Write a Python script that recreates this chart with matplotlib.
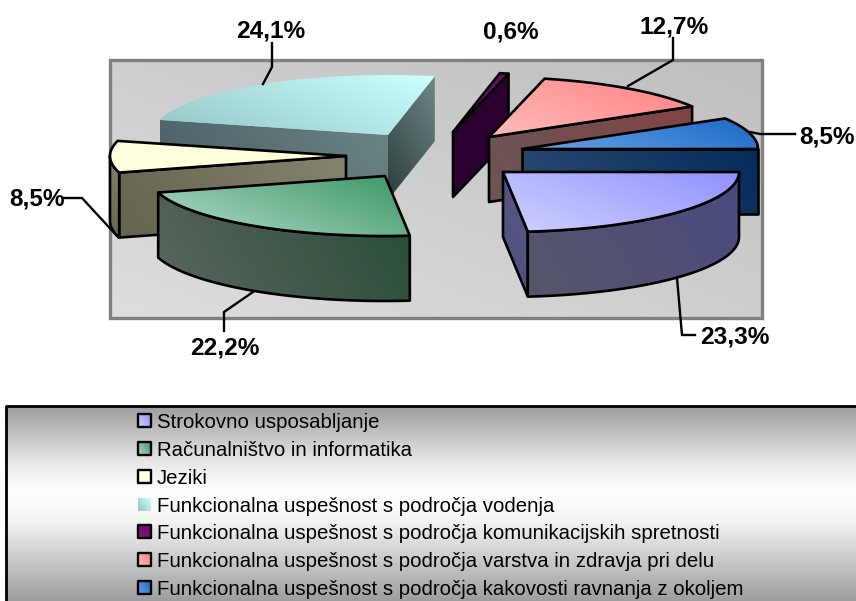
import numpy as np
import matplotlib
matplotlib.use('Agg')
import matplotlib.pyplot as plt
from matplotlib.colors import to_rgb
from matplotlib.patches import Polygon, Rectangle

categories = [
    'Strokovno usposabljanje',
    'Računalništvo in informatika',
    'Jeziki',
    'Funkcionalna uspešnost s področja vodenja',
    'Funkcionalna uspešnost s področja komunikacijskih spretnosti',
    'Funkcionalna uspešnost s področja varstva in zdravja pri delu',
    'Funkcionalna uspešnost s področja kakovosti ravnanja z okoljem',
]
values = [23.3, 22.2, 8.5, 24.1, 0.6, 12.7, 8.5]
labels = ['23,3%', '22,2%', '8,5%', '24,1%', '0,6%', '12,7%', '8,5%']

# apex of every exploded slice, in pixels
apex = [(503, 172), (385, 176), (346, 156), (388, 135), (453, 132), (489, 137), (522, 149)]
label_pos = [(735, 337), (225, 348), (37, 199), (271, 31), (511, 32), (674, 27), (827, 137)]
leaders = [
    [(677, 278), (682, 335), (695, 335)],
    [(253, 292), (224, 312), (224, 331)],
    [(64, 198), (82, 198), (118, 237)],
    [(272, 43), (272, 67), (263, 84)],
    None,
    [(673, 38), (673, 60), (628, 86)],
    [(750, 132), (760, 134), (795, 134)],
]
# colours run from lower left to upper right of a face
top_cols = [('#d0d1ff', '#9191ff'), ('#b4dccb', '#3b9765'), ('#ffffe4', '#ffffd2'),
            ('#94c6c6', '#ccffff'), ('#8a108a', '#6a0a6a'), ('#ffbcbc', '#ff8080'),
            ('#6aa5e4', '#1a68c8')]
side_cols = [('#56566a', '#4a4a80'), ('#5c665c', '#264c38'), ('#66634f', '#86846c'),
             ('#4c6066', '#6a8484'), ('#2b0030', '#2b0030'), ('#6a5656', '#824444'),
             ('#2a4a70', '#062c5c')]
radial_cols = [('#4e4e80', '#585888'), None, None, ('#2c3c3c', '#6f8888'),
               ('#2b0030', '#2b0030'), None, None]
outlined = [True, True, True, False, True, True, True]
draw_order = [3, 2, 1, 4, 5, 6, 0]

RX, RY, DEPTH = 236, 60, 65

fig = plt.figure(figsize=(8.56, 6.01), dpi=100)
ax = fig.add_axes([0, 0, 1, 1])
ax.set_xlim(0, 856)
ax.set_ylim(601, 0)
ax.axis('off')

z = [1]


def grad_poly(pts, c1, c2, edge=True, direction=(1, -0.6), lw=1.9):
    pts = np.array(pts, dtype=float)
    x0, y0 = pts.min(axis=0)
    x1, y1 = pts.max(axis=0)
    xx, yy = np.meshgrid(np.linspace(x0, x1, 80), np.linspace(y0, y1, 80))
    t = xx * direction[0] + yy * direction[1]
    t = (t - t.min()) / max(t.max() - t.min(), 1e-6)
    img = np.array(to_rgb(c1)) * (1 - t[..., None]) + np.array(to_rgb(c2)) * t[..., None]
    im = ax.imshow(img, extent=(x0, x1, y1, y0), aspect='auto', interpolation='bilinear',
                   zorder=z[0])
    im.set_clip_path(Polygon(pts, closed=True, transform=ax.transData))
    if edge:
        ax.add_patch(Polygon(pts, closed=True, fill=False, ec='black', lw=lw, zorder=z[0] + 0.5,
                             joinstyle='round'))
    z[0] += 1


def pt(c, deg):
    a = np.deg2rad(deg)
    return c[0] + RX * np.cos(a), c[1] + RY * np.sin(a)


# plot area
grad_poly([(110, 60), (762, 60), (762, 318), (110, 318)], '#dedede', '#bfbfbf', edge=False,
          direction=(0.4, -1))
ax.add_patch(Rectangle((110, 60), 652, 258, fill=False, ec='#808080', lw=2.4, zorder=z[0]))
z[0] += 1

cum = np.concatenate([[0], np.cumsum(values)]) / np.sum(values) * 360

for i in draw_order:
    c = apex[i]
    a, b = cum[i], cum[i + 1]
    edge = outlined[i]
    # radial walls that face the viewer
    for deg, visible in ((a, np.sin(np.deg2rad(a - 90)) > 0), (b, np.cos(np.deg2rad(b)) > 0)):
        if visible:
            p = pt(c, deg)
            wall = [c, p, (p[0], p[1] + DEPTH), (c[0], c[1] + DEPTH)]
            # front walls use the side colours, the steep ones their own
            cols = radial_cols[i] if radial_cols[i] and abs(np.cos(np.deg2rad(deg))) < 0.6 else side_cols[i]
            grad_poly(wall, cols[0], cols[1], edge=edge)
    # outer rim
    lo, hi = max(a, 0), min(b, 180)
    if hi > lo:
        arc = [pt(c, d) for d in np.linspace(lo, hi, 60)]
        rim = arc + [(x, y + DEPTH) for x, y in arc[::-1]]
        grad_poly(rim, side_cols[i][0], side_cols[i][1], edge=edge)
    # top
    arc = [pt(c, d) for d in np.linspace(a, b, 60)]
    grad_poly([c] + arc, top_cols[i][0], top_cols[i][1], edge=edge, direction=(0.4, -1))

for i, line in enumerate(leaders):
    if line:
        ax.plot(*zip(*line), color='black', lw=1.7, zorder=z[0], solid_joinstyle='miter')
    ax.text(label_pos[i][0], label_pos[i][1], labels[i], ha='center', va='center',
            family='Liberation Sans', weight='bold', fontsize=17.6, color='black', zorder=z[0] + 1)
z[0] += 2

# legend box, runs off the canvas on the right and at the bottom
yy = np.linspace(406, 601, 200)
shade = np.interp(yy, [406, 460, 490, 520, 601], [0.62, 0.9, 1.0, 0.96, 0.62])
ax.imshow(np.stack([shade] * 3, axis=-1)[:, None, :].repeat(2, axis=1), extent=(6, 860, 601, 406),
          aspect='auto', zorder=z[0], interpolation='bilinear')
z[0] += 1
ax.plot([860, 6, 6], [406, 406, 603], color='black', lw=2, zorder=z[0], clip_on=True)

legend_y = [421, 449, 477, 505, 532, 560, 588]
for i, name in enumerate(categories):
    y = legend_y[i]
    grad_poly([(138, y - 7), (151, y - 7), (151, y + 6), (138, y + 6)], top_cols[i][0], top_cols[i][1],
              edge=outlined[i], lw=1.7)
    ax.text(157, y + 1.5, name, ha='left', va='center', family='Liberation Sans', fontsize=14.66,
            color='black', zorder=z[0] + 1)

ax.set_xlim(0, 856)
ax.set_ylim(601, 0)
fig.savefig('out.png', dpi=100)
